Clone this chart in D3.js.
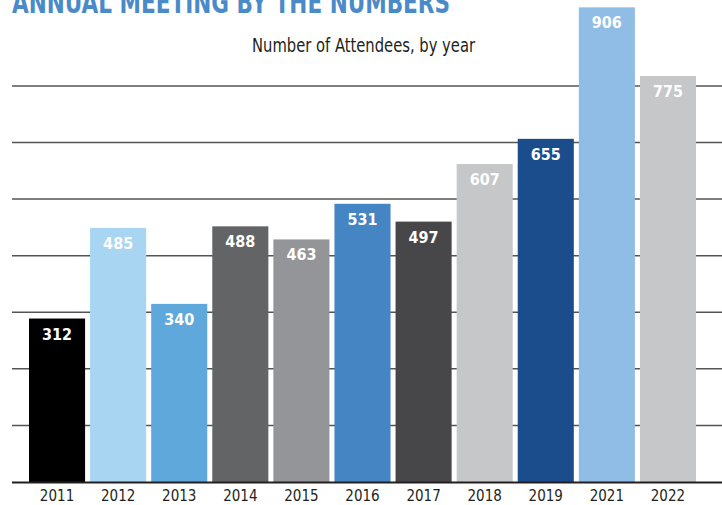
<!DOCTYPE html>
<html>
<head>
<meta charset="utf-8">
<script src="https://cdn.jsdelivr.net/npm/d3@7"></script>
<style>
  body { margin: 0; background: #fff; }
  svg { display: block; }
</style>
</head>
<body>
<div id="chart"></div>
<script>
const years = ["2011", "2012", "2013", "2014", "2015", "2016", "2017", "2018", "2019", "2021", "2022"];
const attendees = [312, 485, 340, 488, 463, 531, 497, 607, 655, 906, 775];
const barColors = ["#000000", "#a8d5f2", "#5ea8dc", "#636466", "#939598", "#4585c3",
                   "#474749", "#c6c7c9", "#1b4c8c", "#8fbde6", "#c6c7c9"];
const gridValues = [108, 216, 324, 432, 540, 648, 756];

const width = 722, height = 505;
const font = "'Liberation Sans Narrow', 'DejaVu Sans Condensed', sans-serif";

const svg = d3.select('#chart')
    .append('svg')
    .attr('width', width)
    .attr('height', height);

// scales
const x = d3.scaleBand()
    .domain(years)
    .range([26.5, 698.5])
    .paddingInner(0.082)
    .paddingOuter(0.041);

const y = d3.scaleLinear()
    .domain([0, 920])
    .range([482, 0]);

// grid lines
svg.append('g')
    .selectAll('line')
    .data(gridValues)
    .join('line')
    .attr('x1', 12)
    .attr('x2', width)
    .attr('y1', d => y(d))
    .attr('y2', d => y(d))
    .attr('stroke', '#555')
    .attr('stroke-width', 1.5);

// bars
svg.append('g')
    .selectAll('rect')
    .data(attendees)
    .join('rect')
    .attr('x', (d, i) => x(years[i]))
    .attr('y', d => y(d))
    .attr('width', x.bandwidth())
    .attr('height', d => y(0) - y(d))
    .attr('fill', (d, i) => barColors[i]);

// baseline + year labels
const xAxis = d3.axisBottom(x).tickSize(0).tickPadding(8);
const ax = svg.append('g')
    .attr('transform', `translate(0,${y(0)})`)
    .call(xAxis);
ax.select('.domain').remove();
ax.selectAll('text')
    .style('font-family', font)
    .style('font-size', '15px')
    .attr('fill', '#231f20');

svg.append('line')
    .attr('x1', 12)
    .attr('x2', width)
    .attr('y1', y(0) + 0.5)
    .attr('y2', y(0) + 0.5)
    .attr('stroke', '#231f20')
    .attr('stroke-width', 2);

// value labels
svg.append('g')
    .selectAll('text')
    .data(attendees)
    .join('text')
    .attr('x', (d, i) => x(years[i]) + x.bandwidth() / 2)
    .attr('y', d => y(d) + 21)
    .attr('text-anchor', 'middle')
    .text(d => d)
    .attr('fill', 'white')
    .style('font-family', font)
    .style('font-weight', 'bold')
    .style('font-size', '16px');

// title (clipped at top of image, like the original)
svg.append('text')
    .attr('x', 12)
    .attr('y', 13)
    .attr('textLength', 438)
    .attr('lengthAdjust', 'spacingAndGlyphs')
    .text('ANNUAL MEETING BY THE NUMBERS')
    .attr('fill', '#4a8ac8')
    .style('font-family', font)
    .style('font-weight', 'bold')
    .style('font-size', '31px');

svg.append('text')
    .attr('x', 252)
    .attr('y', 52)
    .attr('textLength', 223)
    .attr('lengthAdjust', 'spacingAndGlyphs')
    .text('Number of Attendees, by year')
    .attr('fill', '#231f20')
    .style('font-family', font)
    .style('font-size', '19px');
</script>
</body>
</html>
